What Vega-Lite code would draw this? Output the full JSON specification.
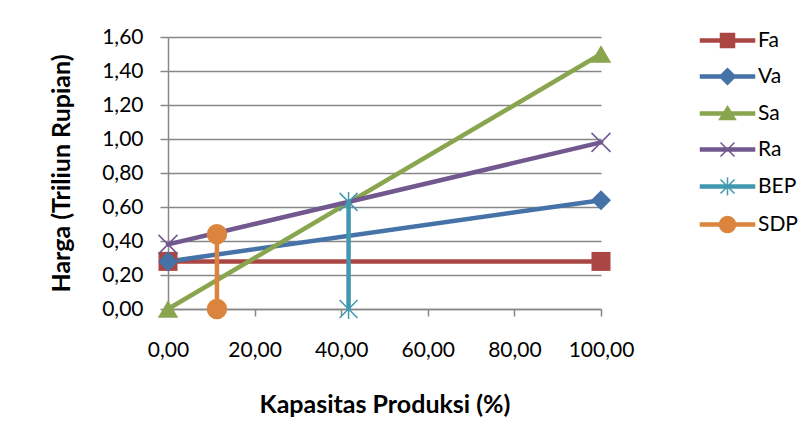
{
  "$schema": "https://vega.github.io/schema/vega-lite/v6.json",
  "width": 433,
  "height": 272,
  "autosize": {"type": "none"},
  "padding": {"left": 168, "top": 37, "right": 198, "bottom": 137},
  "background": "white",
  "config": {
    "view": {"stroke": null},
    "locale": {"number": {"decimal": ",", "thousands": ".", "grouping": [3], "currency": ["Rp", ""]}},
    "font": "Lato",
    "axis": {
      "labelFont": "Lato",
      "labelFontSize": 21,
      "labelColor": "#000000",
      "titleFont": "Lato",
      "titleFontSize": 25,
      "titleFontWeight": "bold",
      "titleColor": "#000000",
      "domainColor": "#878787",
      "domainWidth": 1.5,
      "tickColor": "#878787",
      "tickWidth": 1.5,
      "gridColor": "#878787",
      "gridWidth": 1.5
    }
  },
  "data": {
    "values": [
      {"series": "Fa", "x": 0, "y": 0.28},
      {"series": "Fa", "x": 100, "y": 0.28},
      {"series": "Va", "x": 0, "y": 0.28},
      {"series": "Va", "x": 100, "y": 0.64},
      {"series": "Sa", "x": 0, "y": 0.0},
      {"series": "Sa", "x": 100, "y": 1.5},
      {"series": "Ra", "x": 0, "y": 0.38},
      {"series": "Ra", "x": 100, "y": 0.98},
      {"series": "BEP", "x": 41.7, "y": 0.0},
      {"series": "BEP", "x": 41.7, "y": 0.63},
      {"series": "SDP", "x": 11.3, "y": 0.0},
      {"series": "SDP", "x": 11.3, "y": 0.44}
    ]
  },
  "encoding": {
    "x": {
      "field": "x",
      "type": "quantitative",
      "scale": {"domain": [0, 100], "nice": false, "zero": false},
      "axis": {
        "title": "Kapasitas Produksi (%)",
        "values": [0, 20, 40, 60, 80, 100],
        "format": ".2f",
        "grid": false,
        "tickSize": 7,
        "labelPadding": 23,
        "labelFlush": false,
        "labelOverlap": false,
        "titleX": 216.5,
        "titleY": 95,
        "titleBaseline": "middle",
        "titleAnchor": null
      }
    },
    "y": {
      "field": "y",
      "type": "quantitative",
      "scale": {"domain": [0, 1.6], "nice": false},
      "axis": {
        "title": "Harga (Triliun Rupian)",
        "values": [0, 0.2, 0.4, 0.6, 0.8, 1.0, 1.2, 1.4, 1.6],
        "format": ".2f",
        "grid": true,
        "tickSize": 8,
        "labelPadding": 17,
        "labelOverlap": false,
        "titleX": -107,
        "titleY": 136,
        "titleBaseline": "middle",
        "titleAnchor": null
      }
    }
  },
  "layer": [
    {
      "mark": {"type": "line", "strokeWidth": 4.5, "strokeCap": "round"},
      "encoding": {
        "stroke": {
          "field": "series",
          "type": "nominal",
          "scale": {
            "domain": ["BEP", "Fa", "Ra", "SDP", "Sa", "Va"],
            "range": ["#4198AF", "#AA4643", "#71588F", "#DB843D", "#89A54E", "#4572A7"]
          },
          "legend": null
        },
        "detail": {"field": "series", "type": "nominal"}
      }
    },
    {
      "transform": [{"filter": "datum.series === 'Fa'"}],
      "mark": {"type": "point", "shape": "square", "filled": true, "size": 361, "opacity": 1, "color": "#AA4643"}
    },
    {
      "transform": [{"filter": "datum.series === 'Va'"}],
      "mark": {"type": "point", "shape": "diamond", "filled": true, "size": 400, "opacity": 1, "color": "#4572A7"}
    },
    {
      "transform": [{"filter": "datum.series === 'Sa'"}],
      "mark": {"type": "point", "shape": "triangle-up", "filled": true, "size": 420, "opacity": 1, "color": "#89A54E"}
    },
    {
      "transform": [{"filter": "datum.series === 'Ra'"}],
      "mark": {"type": "point", "shape": "M-1,-1L1,1M-1,1L1,-1", "filled": false, "size": 361, "strokeWidth": 1.5, "opacity": 1, "color": "#71588F"}
    },
    {
      "transform": [{"filter": "datum.series === 'BEP'"}],
      "mark": {"type": "point", "shape": "M-1,-1L1,1M-1,1L1,-1M0,-1.1L0,1.1", "filled": false, "size": 324, "strokeWidth": 1.5, "opacity": 1, "color": "#4198AF"}
    },
    {
      "transform": [{"filter": "datum.series === 'SDP'"}],
      "mark": {"type": "point", "shape": "circle", "filled": true, "size": 420, "opacity": 1, "color": "#DB843D"}
    },
    {
      "mark": {"type": "point", "filled": true, "opacity": 0},
      "encoding": {
        "color": {
          "field": "series",
          "type": "nominal",
          "scale": {
            "domain": ["Fa", "Va", "Sa", "Ra", "BEP", "SDP"],
            "range": ["#AA4643", "#4572A7", "#89A54E", "#71588F", "#4198AF", "#DB843D"]
          },
          "legend": {
            "title": null,
            "orient": "none",
            "legendX": 549,
            "legendY": -7,
            "labelFont": "Lato",
            "labelFontSize": 21,
            "labelColor": "#000000",
            "symbolSize": 4,
            "symbolOpacity": 1,
            "labelOffset": 20,
            "rowPadding": 14,
            "encode": {"symbols": {"update": {"stroke": {"scale": "color", "field": "value"}, "strokeWidth": {"value": 1.5}}}}
          }
        },
        "shape": {
          "field": "series",
          "type": "nominal",
          "scale": {
            "domain": ["Fa", "Va", "Sa", "Ra", "BEP", "SDP"],
            "range": [
              "M-27,-1.5H27V1.5H-27ZM-7,-7H7V7H-7Z",
              "M-27,-1.5H27V1.5H-27ZM0,-8L8,0L0,8L-8,0Z",
              "M-27,-1.5H27V1.5H-27ZM0,-7L8,6H-8Z",
              "M-27,-1.5H27V1.5H-27ZM-7,-7L7,7M-7,7L7,-7",
              "M-27,-1.5H27V1.5H-27ZM-7,-7L7,7M-7,7L7,-7M0,-9L0,9",
              "M-27,-1.5H27V1.5H-27ZM-8,0A8,8 0 1,1 8,0A8,8 0 1,1 -8,0Z"
            ]
          },
          "legend": {
            "title": null,
            "orient": "none",
            "legendX": 549,
            "legendY": -7,
            "labelFont": "Lato",
            "labelFontSize": 21,
            "labelColor": "#000000",
            "symbolSize": 4,
            "symbolOpacity": 1,
            "labelOffset": 20,
            "rowPadding": 14,
            "encode": {"symbols": {"update": {"stroke": {"scale": "color", "field": "value"}, "strokeWidth": {"value": 1.5}}}}
          }
        }
      }
    }
  ]
}
